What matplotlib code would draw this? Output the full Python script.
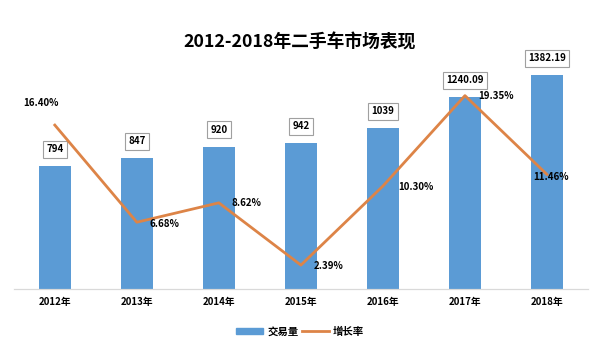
""" 2012-2018 used car market: volume bars and growth line. """
import matplotlib
matplotlib.use("Agg")
import matplotlib.pyplot as plt
from matplotlib.lines import Line2D
from matplotlib.patches import Patch

plt.rcParams['font.family'] = ['Noto Sans CJK SC', 'DejaVu Sans']

years = ["2012年", "2013年", "2014年", "2015年", "2016年", "2017年", "2018年"]
volume = [794, 847, 920, 942, 1039, 1240.09, 1382.19]
volume_labels = ["794", "847", "920", "942", "1039", "1240.09", "1382.19"]
growth = [16.40, 6.68, 8.62, 2.39, 10.30, 19.35, 11.46]

BAR_COLOR = "#5B9BD5"
LINE_COLOR = "#DD8447"


def main() -> None:
    """Draw and save the chart."""
    fig = plt.figure(figsize=(6.0, 3.49), dpi=100)
    ax = fig.add_axes([0.023, 0.172, 0.957, 0.670])
    ax2 = ax.twinx()

    x = list(range(len(years)))
    ax.bar(x, volume, width=0.39, color=BAR_COLOR, zorder=2)
    ax.set_xlim(-0.5, len(years) - 0.5)
    ax.set_ylim(0, 1510)
    ax2.set_ylim(0, 23.4)

    for i, (v, lab) in enumerate(zip(volume, volume_labels)):
        ax.annotate(lab, (i, v), xytext=(0, 12), textcoords="offset points",
                    ha="center", va="center", fontsize=7, fontweight="bold",
                    bbox=dict(boxstyle="square,pad=0.35", fc="white",
                              ec="#A0A0A0", lw=0.8))

    ax2.plot(x, growth, color=LINE_COLOR, lw=2.0, zorder=3)
    offsets = [(-10, 16), (20, -1), (20, 0), (20, -1), (24, -1), (22, 0), (3, -2)]
    for i, (g, off) in enumerate(zip(growth, offsets)):
        ax2.annotate(f"{g:.2f}%", (i, g), xytext=off, textcoords="offset points",
                     ha="center", va="center", fontsize=7, fontweight="bold")

    ax.set_xticks(x)
    ax.set_xticklabels(years, fontsize=7, fontweight="bold")
    ax.tick_params(axis="x", length=0, pad=6)
    ax.set_yticks([])
    ax2.set_yticks([])
    for a in (ax, ax2):
        for side in ("top", "left", "right"):
            a.spines[side].set_visible(False)
        a.spines["bottom"].set_color("#D9D9D9")

    fig.text(0.5, 0.878, "2012-2018年二手车市场表现", ha="center", va="center",
             fontsize=12.8, fontweight="bold")

    handles = [Patch(color=BAR_COLOR), Line2D([0], [0], color=LINE_COLOR, lw=2)]
    fig.legend(handles, ["交易量", "增长率"], loc="center", ncol=2,
               bbox_to_anchor=(0.5, 0.05), frameon=False,
               prop={"size": 7.5, "weight": "bold"},
               handlelength=2.6, handleheight=0.6,
               handletextpad=0.4, columnspacing=0.3)

    fig.savefig("out.png", dpi=100)
    plt.close(fig)


if __name__ == "__main__":
    main()
